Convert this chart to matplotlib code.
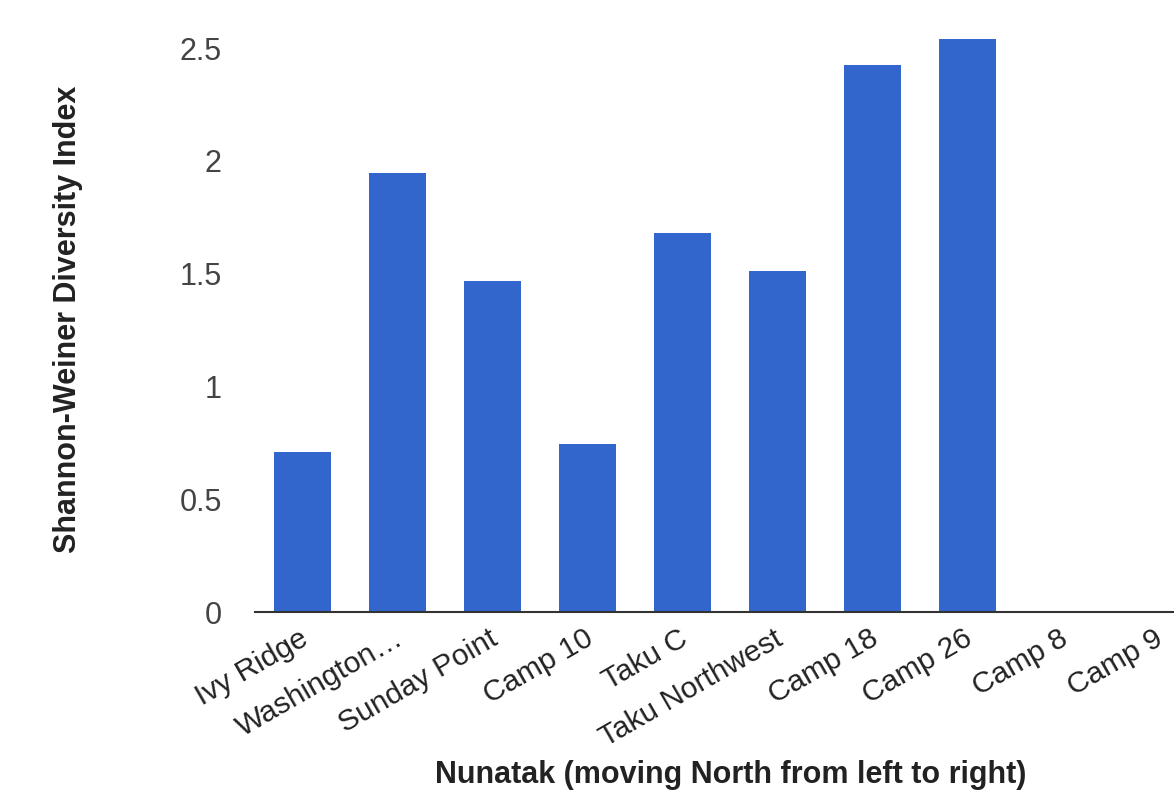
import matplotlib
matplotlib.use("Agg")
import matplotlib.pyplot as plt
import matplotlib.transforms as mtransforms

categories = ["Ivy Ridge", "Washington…", "Sunday Point", "Camp 10", "Taku C",
              "Taku Northwest", "Camp 18", "Camp 26", "Camp 8", "Camp 9"]
values = [0.71, 1.945, 1.465, 0.745, 1.68, 1.51, 2.425, 2.54, 0, 0]
yticks = [0, 0.5, 1, 1.5, 2, 2.5]
ytick_labels = ["0", "0.5", "1", "1.5", "2", "2.5"]

plt.rcParams['font.family'] = ['Liberation Sans', 'DejaVu Sans']

W, H = 1174, 790
fig = plt.figure(figsize=(W / 100, H / 100), dpi=100)
ymax = 2.6
px_per_unit = (612 - 48) / 2.5
left, right = 255 / W, 1205 / W
bottom = (H - 612) / H
top = (H - (612 - ymax * px_per_unit)) / H
ax = fig.add_axes([left, bottom, right - left, top - bottom])

x = list(range(len(categories)))
ax.bar(x, values, width=0.59, color="#3366cc", zorder=2)
ax.set_xlim(-0.5, len(categories) - 0.5)
ax.set_ylim(0, ymax)

for s in ["top", "right", "left"]:
    ax.spines[s].set_visible(False)
ax.spines["bottom"].set_color("#333333")
ax.spines["bottom"].set_linewidth(1.5)

ax.set_yticks(yticks)
ax.set_yticklabels(ytick_labels, fontsize=22, color="#444444")
ax.tick_params(axis="y", length=0, pad=24)
ax.set_xticks(x)
ax.set_xticklabels(categories, fontsize=21.5, color="#222222", rotation=30,
                   ha="right", rotation_mode="anchor")
ax.tick_params(axis="x", length=0, pad=9)
offset = mtransforms.ScaledTranslation(-4 / 100, 0, fig.dpi_scale_trans)
for lbl in ax.get_xticklabels():
    lbl.set_transform(lbl.get_transform() + offset)

fig.text(68 / W, 1 - 319 / H, "Shannon-Weiner Diversity Index", rotation=90,
         fontsize=22, fontweight="bold", ha="center", va="center", color="#222222")
fig.text(731 / W, 1 - 783 / H, "Nunatak (moving North from left to right)",
         fontsize=22, fontweight="bold", ha="center", va="baseline", color="#222222")

fig.savefig("out.png", dpi=100)
